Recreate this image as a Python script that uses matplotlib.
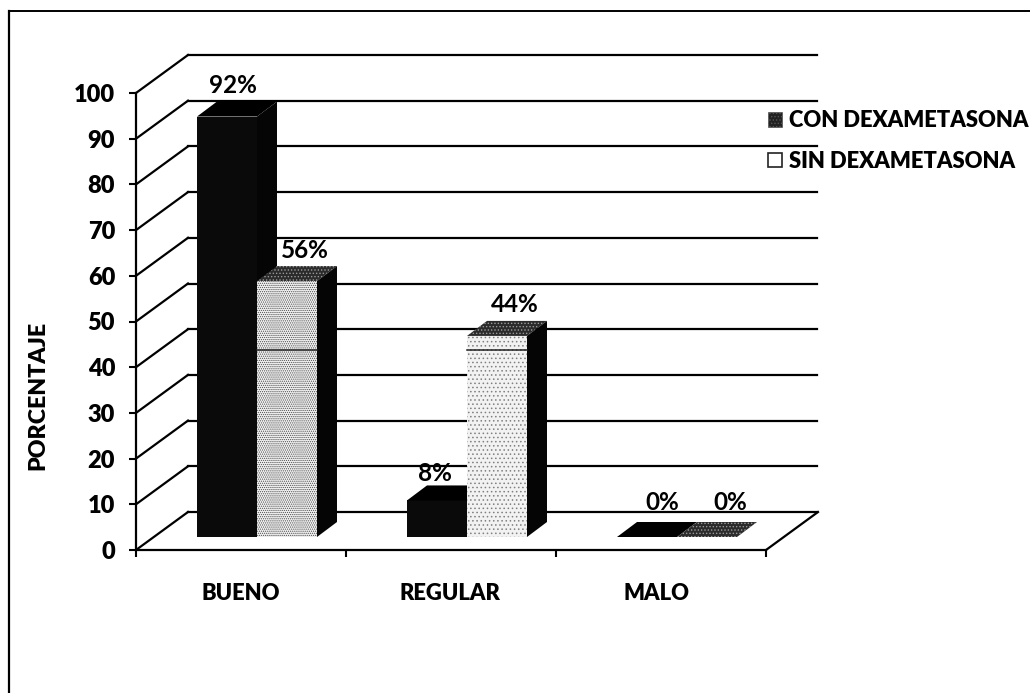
from matplotlib import pyplot as plt
from matplotlib.patches import Polygon, Patch
from matplotlib.lines import Line2D

plt.rcParams['font.family'] = ['Lato', 'DejaVu Sans']
plt.rcParams['font.weight'] = 'bold'
plt.rcParams['hatch.linewidth'] = 0.6

categories = ['BUENO', 'REGULAR', 'MALO']
con_dexa = [92, 8, 0]
sin_dexa = [56, 44, 0]
y_ticks = list(range(0, 101, 10))
series_names = ['CON DEXAMETASONA', 'SIN DEXAMETASONA']

W, H = 1030, 693
fig = plt.figure(figsize=(W / 100, H / 100), dpi=100, facecolor='white')
# plot box sits at x 136-766, y 93-550 in pixels
ax = fig.add_axes([136 / W, (H - 550) / H, 630 / W, 457 / H])
ax.set_xlim(0, 3)
ax.set_ylim(0, 100)

PX_X = 3 / 630
PX_Y = 100 / 457

# depth of the floor/walls and of the bars
wall_dx, wall_dy = 52 * PX_X, 38 * PX_Y
bar_dx, bar_dy = 20 * PX_X, 15 * PX_Y
bar_w = 60 * PX_X
bar_start = 61 * PX_X
bar_base = 13 * PX_Y
line_kw = dict(color='black', lw=1.6, clip_on=False, zorder=1)

for v in y_ticks:
    ax.plot([0, wall_dx], [v, v + wall_dy], **line_kw)
    ax.plot([wall_dx, 3 + wall_dx - 0.005], [v + wall_dy, v + wall_dy], **line_kw)
ax.plot([3, 3 + wall_dx], [0, wall_dy], **line_kw)


def poly(points, face, hatch=None, hatch_color='none', z=3):
    ax.add_patch(Polygon(points, closed=True, facecolor=face, edgecolor=hatch_color,
                         hatch=hatch, lw=0, clip_on=False, zorder=z))


def bar3d(x, value, front, front_hatch, hatch_color, top, top_hatch, top_color, z):
    y0 = bar_base
    y1 = bar_base + value
    poly([(x, y0), (x + bar_w, y0), (x + bar_w, y1), (x, y1)], front, front_hatch, hatch_color, z)
    poly([(x, y1), (x + bar_w, y1), (x + bar_w + bar_dx, y1 + bar_dy), (x + bar_dx, y1 + bar_dy)],
         top, top_hatch, top_color, z)
    if value > 0:
        poly([(x + bar_w, y0), (x + bar_w + bar_dx, y0 + bar_dy),
              (x + bar_w + bar_dx, y1 + bar_dy), (x + bar_w, y1)], '#050505', None, 'none', z)


# light bars go first in each group so the dark top corner stays in front
for i in range(len(categories)):
    x_dark = i + bar_start
    x_light = x_dark + bar_w
    grain = '........' if i == 0 else '....'
    grain_color = '#4d4d4d' if i == 0 else '#808080'
    bar3d(x_dark, con_dexa[i], '#0a0a0a', None, 'none', '#000000', None, 'none', 3 + i * 0.1)
    bar3d(x_light, sin_dexa[i], '#f2f2f2', grain, grain_color, '#2b2b2b', '.....', '#9a9a9a', 4 + i * 0.1)
    if sin_dexa[i] > 0:
        # darker seam that crosses the light column
        ax.plot([x_light, x_light + bar_w], [bar_base + 41, bar_base + 41],
                color='#222222', lw=1.1, clip_on=False, zorder=5)

# value labels, offset in pixels from the back of each bar top
dark_off = [(-4, 16), (-12, 12), (5, 19)]
light_off = [(8, 16), (8, 16), (13, 19)]
for i in range(len(categories)):
    x_dark = i + bar_start + bar_w / 2 + bar_dx / 2
    ax.annotate('%d%%' % con_dexa[i], (x_dark, bar_base + con_dexa[i] + bar_dy),
                xytext=(dark_off[i][0] * .72, dark_off[i][1] * .72), textcoords='offset points',
                ha='center', va='center', fontsize=17.5, fontweight='bold', zorder=8)
    x_light = x_dark + bar_w
    ax.annotate('%d%%' % sin_dexa[i], (x_light, bar_base + sin_dexa[i] + bar_dy),
                xytext=(light_off[i][0] * .72, light_off[i][1] * .72), textcoords='offset points',
                ha='center', va='center', fontsize=17.5, fontweight='bold', zorder=8)

for name in ['top', 'right']:
    ax.spines[name].set_visible(False)
for name in ['left', 'bottom']:
    ax.spines[name].set_linewidth(1.6)
ax.patch.set_alpha(0)
ax.set_yticks(y_ticks)
ax.set_xticks(range(len(categories) + 1))
ax.set_xticklabels([])
ax.set_xticks([0.5, 1.495, 2.48], categories, minor=True, fontweight='heavy')
ax.tick_params(axis='x', which='minor', length=0, pad=23.5, labelsize=15.8)
ax.tick_params(axis='x', which='major', length=5, width=1.5)
ax.tick_params(axis='y', length=5, width=1.5, labelsize=17, pad=10)
for lab in ax.get_yticklabels():
    lab.set_fontweight('heavy')
ax.set_ylabel('PORCENTAJE', fontsize=16.7, fontweight='heavy')
ax.yaxis.set_label_coords((48 - 136) / 630, (550 - 395) / 457)

handles = [Patch(facecolor='#222222', edgecolor='#555555', hatch='.....', lw=0.5),
           Patch(facecolor='white', edgecolor='#222222', lw=1.2)]
leg = ax.legend(handles, series_names, loc='center left', bbox_to_anchor=(768 / W, (H - 141) / H),
                bbox_transform=fig.transFigure, frameon=False, fontsize=15.8, handlelength=0.63,
                handleheight=0.63, handletextpad=0.32, labelspacing=0.9, borderpad=0, borderaxespad=0)
for t in leg.get_texts():
    t.set_fontweight('heavy')

# outer frame runs along the left and top only
fig.add_artist(Line2D([9 / W, 9 / W], [0, (H - 11) / H], color='black', lw=1.6))
fig.add_artist(Line2D([9 / W, 1], [(H - 11) / H, (H - 11) / H], color='black', lw=1.4))

fig.savefig('out.png', dpi=100, facecolor='white')
